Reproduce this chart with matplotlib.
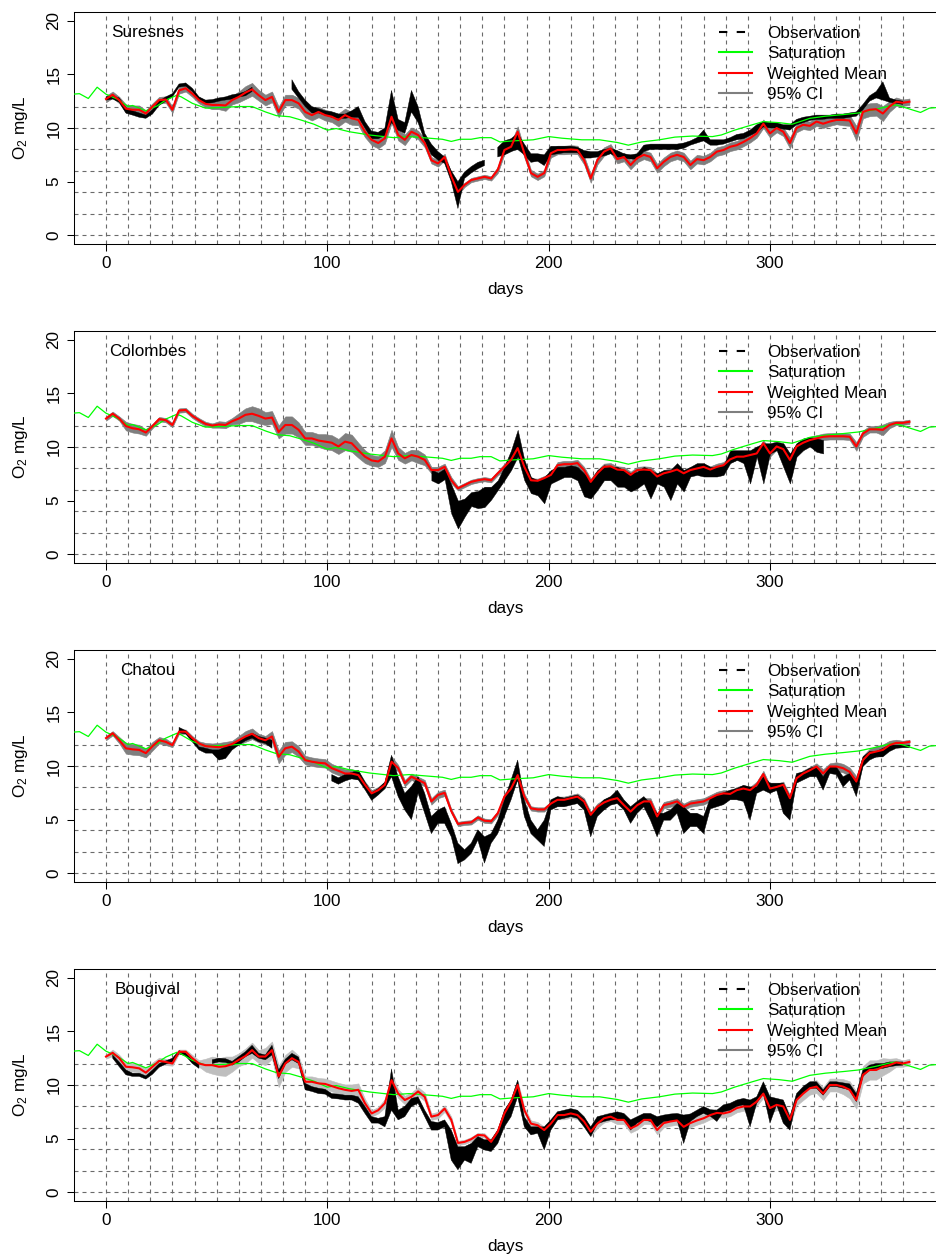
import numpy as np
import matplotlib
matplotlib.use('Agg')
import matplotlib.pyplot as plt
from matplotlib.lines import Line2D

plt.rcParams['font.family'] = ['Liberation Sans', 'DejaVu Sans']
plt.rcParams['mathtext.default'] = 'regular'

nan = np.nan

# sampling grid (days) shared by every station series
days = np.arange(0, 364, 3)

# O2 saturation, same for all stations
sat_days = [-15, -12, -8, -4, 0, 5, 10, 12, 18, 23, 27, 32, 34, 39, 45, 51, 60, 66, 72, 77,
            83, 88, 94, 100, 104, 110, 119, 130, 137, 146, 152, 156, 160, 165, 169, 174, 178,
            184, 193, 200, 206, 215, 223, 231, 236, 242, 250, 257, 265, 274, 278, 284, 292,
            297, 304, 310, 318, 325, 333, 340, 348, 354, 357, 361, 368, 372, 375]
sat = [13.15, 13.2, 12.75, 13.8, 13.15, 12.7, 12.0, 12.1, 11.6, 12.05, 12.6, 13.05, 12.9,
       12.3, 11.85, 11.9, 12.0, 12.0, 11.5, 11.15, 11.05, 10.75, 10.35, 9.8, 9.95, 9.65, 9.35,
       9.1, 9.2, 9.05, 8.95, 8.75, 8.95, 8.95, 9.1, 9.1, 8.7, 8.8, 8.9, 9.2, 9.05, 8.9, 8.9,
       8.65, 8.4, 8.7, 8.9, 9.15, 9.25, 9.2, 9.35, 9.8, 10.3, 10.6, 10.5, 10.35, 10.9, 11.1,
       11.25, 11.4, 11.75, 12.05, 12.15, 11.9, 11.45, 11.85, 11.9]

# --- Suresnes ---
suresnes_mean = [
    12.7, 13.1, 12.6, 11.8, 11.7, 11.7, 11.35, 12.0, 12.6, 12.65,
    11.7, 13.5, 13.7, 13.2, 12.6, 12.25, 12.15, 12.15, 12.1, 12.6,
    12.9, 13.3, 13.6, 13.05, 12.6, 12.9, 11.5, 12.6, 12.6, 12.3,
    11.5, 11.2, 11.5, 11.2, 11.05, 10.75, 11.2, 10.9, 10.75, 9.65,
    8.9, 8.6, 9.05, 11.05, 9.35, 8.9, 9.65, 9.35, 8.6, 7.0,
    6.7, 7.3, 5.5, 4.05, 4.7, 5.15, 5.3, 5.45, 5.3, 6.1,
    7.95, 8.25, 9.65, 7.65, 5.8, 5.45, 5.8, 7.65, 7.95, 7.95,
    8.0, 7.95, 7.0, 5.3, 7.0, 7.8, 8.1, 7.1, 7.3, 6.55,
    7.2, 7.5, 7.3, 6.25, 6.85, 7.3, 7.5, 7.3, 6.55, 7.1,
    7.0, 7.3, 7.8, 7.95, 8.25, 8.4, 8.7, 9.05, 9.5, 10.4,
    9.5, 10.0, 9.65, 8.6, 10.0, 10.3, 10.2, 10.6, 10.4, 10.6,
    10.75, 10.75, 10.7, 9.5, 11.5, 11.7, 11.75, 11.35, 12.0, 12.45,
    12.35, 12.45]
suresnes_ci = [
    0.3, 0.3, 0.3, 0.4, 0.4, 0.4, 0.3, 0.3, 0.3, 0.3,
    0.3, 0.3, 0.3, 0.3, 0.3, 0.3, 0.4, 0.4, 0.5, 0.4,
    0.5, 0.6, 0.6, 0.5, 0.5, 0.5, 0.5, 0.5, 0.5, 0.5,
    0.5, 0.5, 0.5, 0.5, 0.5, 0.6, 0.6, 0.6, 0.5, 0.5,
    0.5, 0.5, 0.5, 0.6, 0.5, 0.5, 0.4, 0.4, 0.4, 0.3,
    0.3, 0.3, 0.3, 0.3, 0.2, 0.2, 0.2, 0.2, 0.2, 0.3,
    0.4, 0.4, 0.5, 0.4, 0.3, 0.3, 0.3, 0.4, 0.4, 0.4] + [0.4] * 33 + [
    0.5, 0.4, 0.4, 0.4, 0.4, 0.4, 0.4,
    0.4, 0.5, 0.5, 0.7, 0.6, 0.6, 0.6, 0.7, 0.5, 0.4,
    0.3, 0.3]
suresnes_obs_lo = [
    12.6, 12.7, 12.4, 11.4, 11.2, 11.0, 10.9, 11.3, 12.1, 12.5,
    12.9, 13.8, 13.9, 13.4, 12.6, 12.3, 12.35, 12.5, 12.6, 12.7,
    12.9, 13.0, 13.4, nan, nan, nan, nan, nan, 13.6, 12.8,
    12.0, 11.4, 11.4, 11.2, 11.0, 10.9, 10.9, 11.0, 11.0, 10.0,
    9.0, 9.0, 9.3, 10.5, 9.8, 9.5, 11.5, 10.5, 8.8, 7.5,
    7.0, 6.7, 5.0, 2.5, 5.3, 5.8, 6.2, 6.5, nan, 7.3,
    7.5, 7.8, 8.0, 7.5, 6.8, 6.9, 6.5, 7.5, 7.6, 7.7,
    7.7, 7.7, 7.2, 7.2, 7.3, 7.4, 7.6, 7.3, 7.2, 7.1,
    7.1, 7.8, 8.0, 8.0, 8.0, 8.0, 8.0, 8.1, 8.4, 8.6,
    8.8, 8.4, 8.4, 8.5, 8.7, 8.9, 9.0, 9.3, 9.6, 10.1,
    10.0, 10.0, 9.9, 9.8, 10.3, 10.5, 10.7, 10.8, 10.8, 10.9,
    10.9, 10.9, 11.0, 11.1, 11.7, 12.5, 12.8, 12.6, 12.4, 12.3,
    12.2, nan]
suresnes_obs_hi = [
    12.9, 13.0, 12.8, 11.9, 11.6, 11.4, 11.2, 11.7, 12.5, 12.9,
    13.2, 14.1, 14.2, 13.7, 12.9, 12.6, 12.65, 12.8, 12.9, 13.1,
    13.2, 13.4, 13.8, nan, nan, nan, nan, nan, 14.5, 13.4,
    12.6, 12.0, 11.8, 11.6, 11.5, 11.3, 11.3, 11.6, 12.0, 10.6,
    9.7, 9.6, 10.0, 13.5, 10.8, 10.5, 13.5, 12.0, 9.5, 8.5,
    7.8, 7.3, 6.0, 5.0, 5.9, 6.4, 6.8, 7.0, nan, 8.2,
    8.8, 9.0, 9.5, 8.5, 7.6, 7.6, 7.5, 8.3, 8.3, 8.3,
    8.3, 8.2, 7.9, 7.8, 7.8, 8.0, 8.1, 7.9, 7.6, 7.5,
    7.6, 8.4, 8.5, 8.5, 8.5, 8.5, 8.5, 8.6, 8.8, 9.1,
    9.8, 8.9, 8.9, 8.9, 9.1, 9.4, 9.5, 9.8, 10.3, 10.6,
    10.5, 10.5, 10.3, 10.3, 10.8, 11.0, 11.1, 11.2, 11.2, 11.2,
    11.3, 11.3, 11.4, 11.5, 12.2, 13.0, 13.4, 14.3, 12.8, 12.6,
    12.5, nan]

# --- Colombes ---
colombes_mean = [
    12.65, 13.1, 12.65, 11.95, 11.75, 11.65, 11.35, 11.95, 12.6, 12.5,
    12.05, 13.4, 13.45, 12.9, 12.5, 12.15, 12.0, 12.1, 12.05, 12.4,
    12.65, 13.0, 13.1, 12.9, 12.65, 12.75, 11.4, 12.05, 12.05, 11.6,
    10.8, 10.8, 10.6, 10.5, 10.4, 10.05, 10.5, 10.35, 9.7, 9.1,
    8.75, 8.65, 9.1, 10.8, 9.4, 8.95, 9.25, 9.1, 8.8, 7.85,
    7.85, 8.15, 6.9, 6.15, 6.45, 6.75, 6.9, 7.0, 6.9, 7.55,
    8.15, 8.8, 9.9, 8.15, 6.9, 6.85, 7.1, 7.4, 8.3, 8.4,
    8.4, 8.5, 7.85, 6.75, 7.55, 8.15, 8.2, 7.9, 7.85, 7.4,
    7.85, 7.9, 7.85, 7.25, 7.55, 7.7, 7.9, 7.55, 7.85, 8.0,
    8.15, 7.9, 8.15, 8.3, 8.85, 9.1, 9.1, 9.25, 9.4, 10.35,
    9.4, 10.05, 9.8, 8.8, 10.05, 10.4, 10.65, 10.8, 10.95, 11.0,
    11.0, 11.0, 10.95, 10.05, 11.25, 11.65, 11.65, 11.6, 12.05, 12.25,
    12.25, 12.35]
colombes_ci = [
    0.2, 0.2, 0.2, 0.4, 0.4, 0.4, 0.3, 0.2, 0.2, 0.2,
    0.2, 0.2, 0.2, 0.2, 0.2, 0.2, 0.2, 0.3, 0.3, 0.3,
    0.5, 0.6, 0.7, 0.7, 0.6, 0.6, 0.6, 0.8, 0.8, 0.7,
    0.6, 0.6, 0.6, 0.7, 0.7, 0.7, 0.8, 0.8, 0.7, 0.6,
    0.5, 0.5, 0.6, 0.8, 0.6, 0.5, 0.5, 0.6, 0.5, 0.3,
    0.3, 0.3, 0.3, 0.2, 0.2, 0.2, 0.2, 0.2, 0.2, 0.2,
    0.3, 0.4, 0.5, 0.3, 0.2, 0.2, 0.2, 0.2, 0.3, 0.3] + [0.3] * 40 + [
    0.3, 0.3, 0.3, 0.4, 0.3, 0.3, 0.3, 0.5, 0.3, 0.2,
    0.2, 0.2]
colombes_obs_lo = [nan] * 49 + [
    6.9,
    6.6, 7.0, 3.8, 2.4, 3.5, 4.5, 4.3, 4.4, 5.1, 6.0,
    6.9, 7.85, 9.1, 6.9, 5.7, 5.5, 4.75, 6.6, 6.9, 7.2,
    7.2, 6.9, 5.4, 5.2, 6.0, 6.9, 6.9, 6.3, 6.3, 5.85,
    6.15, 6.6, 5.2, 6.6, 6.3, 5.05, 6.6, 5.85, 7.25, 7.4,
    7.25, 7.25, 7.25, 7.4, 8.5, 8.8, 8.5, 6.6, 9.1, 6.6,
    9.4, 9.7, 8.15, 6.6, 9.1, 9.7, 10.05, 9.55, 9.4] + [nan] * 13
colombes_obs_hi = [nan] * 49 + [
    7.9,
    7.6, 8.0, 6.5, 5.0, 5.2, 5.8, 5.9, 6.3, 6.3, 6.9,
    8.2, 9.7, 11.6, 8.8, 7.2, 6.9, 7.2, 7.85, 8.15, 8.15,
    8.3, 8.15, 7.55, 6.9, 7.85, 8.3, 8.15, 8.15, 7.85, 7.55,
    7.7, 8.15, 7.85, 7.55, 7.85, 7.85, 8.5, 7.85, 8.15, 8.5,
    8.5, 8.15, 8.15, 8.3, 9.7, 9.7, 9.7, 9.7, 10.05, 10.35,
    10.35, 10.5, 10.35, 9.4, 10.35, 10.8, 10.95, 10.8, 10.65] + [nan] * 13

# --- Chatou ---
chatou_mean = [
    12.6, 13.05, 12.4, 11.65, 11.55, 11.5, 11.2, 11.85, 12.4, 12.25,
    11.95, 13.2, 13.2, 12.6, 12.1, 11.85, 11.8, 11.75, 11.85, 12.05,
    12.4, 12.75, 13.0, 12.6, 12.4, 12.75, 10.85, 11.65, 11.8, 11.35,
    10.55, 10.4, 10.3, 10.25, 9.8, 9.55, 9.3, 9.3, 9.15, 8.25,
    7.45, 7.75, 8.25, 10.4, 9.8, 8.4, 9.0, 8.7, 8.4, 6.7,
    7.3, 7.5, 5.8, 4.6, 4.7, 4.75, 5.2, 4.9, 4.85, 5.6,
    7.15, 7.9, 9.15, 7.15, 6.05, 5.95, 5.95, 6.5, 6.85, 6.85,
    7.0, 7.15, 6.7, 5.45, 6.2, 6.6, 6.85, 7.0, 6.35, 5.75,
    6.35, 6.7, 6.7, 5.3, 6.35, 6.5, 6.7, 6.2, 6.5, 6.6,
    6.7, 7.0, 7.3, 7.45, 7.4, 7.75, 7.9, 7.75, 8.25, 9.25,
    7.9, 8.05, 8.25, 7.0, 8.85, 9.3, 9.6, 9.95, 9.3, 9.95,
    9.95, 9.8, 9.45, 8.55, 10.55, 11.2, 11.35, 11.5, 11.95, 12.15,
    12.15, 12.25]
chatou_ci = [
    0.2, 0.2, 0.3, 0.5, 0.5, 0.5, 0.4, 0.4, 0.3, 0.3,
    0.2, 0.2, 0.2, 0.2, 0.2, 0.3, 0.3, 0.4, 0.4, 0.3,
    0.4, 0.5, 0.5, 0.4, 0.4, 0.5, 0.6, 0.6, 0.5, 0.5,
    0.4, 0.4, 0.4, 0.4, 0.4, 0.4, 0.4, 0.4, 0.4, 0.3,
    0.3, 0.3, 0.3, 0.5, 0.3, 0.3, 0.3, 0.3, 0.3, 0.3,
    0.3, 0.3, 0.2, 0.2, 0.2, 0.2, 0.2, 0.2, 0.2, 0.2,
    0.3, 0.3, 0.4, 0.3, 0.2, 0.2, 0.2, 0.2, 0.3, 0.3] + [0.3] * 38 + [
    0.4, 0.3,
    0.4, 0.4, 0.4, 0.5, 0.4, 0.4, 0.5, 0.5, 0.4, 0.3,
    0.2, 0.2]
chatou_obs_lo = [nan] * 11 + [
    13.1, 13.0, 12.25, 11.5, 11.2, 11.2, 10.55, 10.7, 11.5,
    11.95, 12.35, 12.6, 12.25, 12.1, 11.65] + [nan] * 8 + [
    8.6, 8.3, 8.6, 8.8, 8.7, 7.8,
    6.8, 7.3, 7.9, 9.0, 7.15, 5.9, 5.0, 7.45, 5.6, 3.7,
    4.65, 4.65, 3.4, 0.9, 1.25, 1.85, 3.1, 0.95, 2.8, 3.7,
    5.3, 6.85, 8.7, 5.3, 3.7, 3.1, 2.5, 5.9, 6.2, 6.2,
    6.35, 6.5, 5.9, 3.4, 5.3, 5.9, 6.35, 6.5, 5.9, 4.65,
    5.6, 6.2, 4.95, 3.4, 4.95, 4.95, 5.6, 3.7, 4.35, 4.35,
    3.7, 6.0, 6.2, 6.4, 6.85, 6.85, 6.7, 4.95, 7.45, 7.75,
    7.45, 7.75, 5.6, 4.95, 8.4, 8.7, 9.0, 9.0, 7.75, 9.3,
    9.2, 8.05, 8.7, 7.15, 9.95, 10.55, 10.85, 10.85, 11.35, 11.65,
    11.7, 11.7]
chatou_obs_hi = [nan] * 11 + [
    13.6, 13.3, 12.6, 11.8, 11.65, 11.5, 11.5, 11.8, 12.1,
    12.4, 12.75, 13.05, 12.75, 12.6, 12.4] + [nan] * 8 + [
    9.2, 8.9, 9.2, 9.4, 9.6, 8.5,
    7.5, 7.9, 8.5, 11.0, 9.0, 7.45, 8.1, 9.0, 7.45, 5.3,
    5.9, 6.2, 4.65, 2.8, 2.2, 2.8, 4.05, 3.4, 3.7, 4.95,
    6.85, 8.7, 10.55, 6.85, 4.95, 4.05, 4.95, 6.85, 7.15, 7.0,
    7.15, 7.3, 6.85, 5.6, 6.2, 6.85, 7.15, 7.75, 6.85, 6.2,
    6.7, 7.15, 6.5, 5.6, 5.6, 5.9, 6.5, 6.2, 5.6, 5.6,
    5.3, 7.0, 7.3, 7.5, 7.75, 7.9, 8.2, 8.05, 8.05, 9.0,
    8.4, 8.4, 8.4, 7.15, 9.3, 9.45, 9.8, 9.95, 9.0, 9.95,
    9.9, 9.0, 9.3, 8.7, 10.85, 11.35, 11.35, 11.65, 11.95, 11.95,
    11.95, 11.95]

# --- Bougival ---
bougival_mean = [
    12.65, 13.0, 12.5, 11.7, 11.65, 11.55, 11.15, 11.7, 12.25, 12.15,
    12.0, 13.1, 13.1, 12.5, 12.0, 11.85, 11.85, 11.7, 11.75, 11.95,
    12.35, 12.7, 13.25, 12.65, 12.65, 13.25, 10.8, 12.0, 12.5, 12.15,
    10.3, 10.3, 10.15, 10.1, 9.9, 9.7, 9.55, 9.45, 9.55, 8.3,
    7.35, 7.65, 8.3, 10.45, 9.2, 8.6, 8.9, 9.4, 8.9, 7.05,
    7.2, 7.8, 6.75, 4.6, 4.7, 4.95, 5.35, 5.3, 4.7, 5.65,
    7.35, 8.45, 10.0, 7.65, 6.4, 6.25, 5.8, 6.4, 7.2, 7.2,
    7.35, 7.2, 6.6, 5.65, 6.4, 6.9, 7.05, 6.75, 6.75, 5.95,
    6.25, 6.75, 6.75, 5.8, 6.45, 6.6, 6.7, 6.1, 6.45, 6.7,
    6.9, 7.2, 7.4, 7.35, 7.5, 7.85, 8.0, 8.0, 8.45, 9.2,
    7.85, 8.15, 8.0, 6.75, 8.6, 9.2, 9.7, 9.85, 9.2, 10.0,
    10.0, 9.85, 9.55, 8.6, 10.95, 11.4, 11.4, 11.7, 11.85, 12.1,
    12.0, 12.15]
bougival_ci = [
    0.2, 0.3, 0.3, 0.4, 0.4, 0.4, 0.4, 0.4, 0.3, 0.3,
    0.2, 0.2, 0.2, 0.3, 0.3, 0.6, 0.8, 0.8, 0.9, 0.7,
    0.6, 0.7, 0.7, 0.6, 0.8, 0.8, 1.0, 0.8, 0.8, 0.6,
    0.5, 0.5, 0.5, 0.5, 0.5, 0.5, 0.5, 0.6, 0.6, 0.4,
    0.3, 0.3, 0.4, 0.6, 0.4, 0.4, 0.4, 0.4, 0.4, 0.3,
    0.3, 0.3, 0.3, 0.2, 0.2, 0.2, 0.2, 0.2, 0.2, 0.3,
    0.3, 0.3, 0.4, 0.3, 0.3, 0.3, 0.3, 0.4, 0.4, 0.4] + [0.4] * 30 + [
    0.5, 0.5, 0.5, 0.5, 0.5, 0.6, 0.6, 0.6, 0.6, 0.6,
    0.6, 0.7, 0.8, 0.8, 0.8, 0.9, 0.9, 0.8, 0.6, 0.4,
    0.3, 0.3]
bougival_obs_lo = [
    nan, 12.5, 11.7, 10.95, 10.8, 10.8, 10.55, 11.0, 11.65, 11.95,
    12.15, 12.9, 12.7, 12.0, 11.55, nan, 12.0, 12.15, 12.1, 11.85,
    12.15, 12.65, 12.95, 12.5, 12.35, 12.8, 10.6, 11.95, 12.35, 12.0,
    9.55, 9.4, 9.2, 9.15, 8.75, 8.7, 8.6, 8.6, 8.3, 7.35,
    6.45, 6.45, 6.1, 7.65, 6.75, 7.05, 8.0, 8.3, 7.05, 5.8,
    5.8, 6.1, 3.0, 2.1, 3.0, 2.7, 4.25, 3.95, 3.8, 4.55,
    6.1, 7.05, 8.9, 6.1, 5.35, 5.5, 3.95, 5.8, 6.75, 6.9,
    7.05, 6.9, 6.1, 5.2, 6.4, 6.6, 6.75, 6.75, 6.75, 5.8,
    6.45, 6.75, 6.6, 6.1, 6.6, 6.6, 6.75, 4.55, 6.6, 7.05,
    7.35, 7.1, 6.6, 7.5, 7.65, 8.0, 8.15, 6.1, 8.3, 9.2,
    6.45, 8.15, 6.45, 5.8, 8.6, 9.2, 9.7, 9.7, 9.05, 9.85,
    9.85, 9.7, 9.55, 8.45, 10.8, 11.4, 11.55, 11.55, 11.7, 11.8,
    11.85, nan]
bougival_obs_hi = [
    nan, 12.8, 12.15, 11.4, 11.1, 11.1, 10.85, 11.4, 12.0, 12.25,
    12.5, 13.2, 13.0, 12.35, 12.0, nan, 12.35, 12.5, 12.45, 12.2,
    12.65, 13.1, 13.7, 12.95, 12.8, 13.7, 11.4, 12.4, 12.95, 12.6,
    10.15, 9.85, 9.7, 9.6, 9.2, 9.15, 9.05, 9.05, 8.9, 8.0,
    7.05, 6.9, 7.05, 11.5, 7.65, 8.0, 8.75, 8.9, 7.65, 6.6,
    6.5, 6.75, 5.8, 4.25, 4.25, 4.55, 5.2, 4.9, 4.9, 5.8,
    7.65, 8.6, 10.45, 7.05, 6.1, 6.1, 6.1, 6.75, 7.5, 7.65,
    7.8, 7.65, 7.05, 6.1, 7.05, 7.2, 7.35, 7.5, 7.35, 6.75,
    7.05, 7.35, 7.35, 7.05, 7.2, 7.3, 7.35, 7.2, 7.3, 7.65,
    8.0, 7.7, 7.65, 8.15, 8.3, 8.6, 8.75, 8.6, 8.9, 10.3,
    8.9, 8.75, 8.6, 7.05, 9.2, 9.85, 10.3, 10.3, 9.55, 10.3,
    10.3, 10.2, 10.1, 9.2, 11.4, 11.85, 12.0, 12.0, 12.15, 12.15,
    12.15, nan]

stations = [
    ('Suresnes', suresnes_mean, suresnes_ci, suresnes_obs_lo, suresnes_obs_hi, '#7f7f7f'),
    ('Colombes', colombes_mean, colombes_ci, colombes_obs_lo, colombes_obs_hi, '#7f7f7f'),
    ('Chatou', chatou_mean, chatou_ci, chatou_obs_lo, chatou_obs_hi, '#7f7f7f'),
    ('Bougival', bougival_mean, bougival_ci, bougival_obs_lo, bougival_obs_hi, '#bebebe'),
]

W, H = 936, 1258
fs = 12.3
fig = plt.figure(figsize=(W / 100, H / 100), dpi=100)
box_tops = [12.1, 331.1, 650.1, 969.1]
box_h = 231.8
left = 74

dash = (0, (3.6, 3.6))
legend_handles = [
    Line2D([], [], color='black', lw=1.5, ls=(0, (4, 4.5))),
    Line2D([], [], color='#00ff00', lw=1.5),
    Line2D([], [], color='red', lw=1.5),
    Line2D([], [], color='#7f7f7f', lw=1.5),
]
legend_labels = ['Observation', 'Saturation', 'Weighted Mean', '95% CI']

for top, (name, mean, ci, obs_lo, obs_hi, ci_col) in zip(box_tops, stations):
    ax = fig.add_axes([left / W, 1 - (top + box_h) / H, (W - left) / W, box_h / H])
    mean = np.array(mean)
    ci = np.array(ci)

    for x in range(0, 361, 10):
        ax.axvline(x, color='#6a6a6a', lw=0.8, ls=dash, zorder=0)
    for y in range(0, 13, 2):
        ax.axhline(y, color='#6a6a6a', lw=0.8, ls=dash, zorder=0)

    ax.fill_between(days, mean - ci, mean + ci, color=ci_col, lw=0.4, zorder=1)
    ax.fill_between(days, obs_lo, obs_hi, color='black', lw=0.3, zorder=2)
    ax.plot(sat_days, sat, color='#00ff00', lw=0.9, zorder=3)
    ax.plot(days, mean, color='red', lw=1.5, zorder=4)

    ax.set_xlim(-14.46, 375.0)
    ax.set_ylim(-0.8, 20.8)
    ax.set_xticks([0, 100, 200, 300])
    ax.set_yticks([0, 5, 10, 15, 20])
    ax.tick_params(axis='both', direction='out', length=5.3, width=0.75, labelsize=fs)
    ax.tick_params(axis='x', pad=3.1)
    ax.tick_params(axis='y', pad=3.8, labelrotation=90)
    plt.setp(ax.get_yticklabels(), va='center')
    for s in ['left', 'top', 'bottom']:
        ax.spines[s].set_linewidth(0.75)
    ax.spines['right'].set_visible(False)

    ax.set_xlabel('days', fontsize=fs)
    ax.xaxis.set_label_coords(0.5, -0.164)
    ax.set_ylabel('O$_2$ mg/L', fontsize=fs)
    ax.yaxis.set_label_coords(-0.051, 0.5)

    ax.text(19, 18.9, name, ha='center', va='center', fontsize=fs)
    ax.legend(legend_handles, legend_labels, loc='upper left',
              bbox_to_anchor=(0.748, 0.942), frameon=False, fontsize=fs,
              borderpad=0, borderaxespad=0, handlelength=1.93,
              handletextpad=0.88, labelspacing=0.33)

fig.savefig('out.png', dpi=100)
